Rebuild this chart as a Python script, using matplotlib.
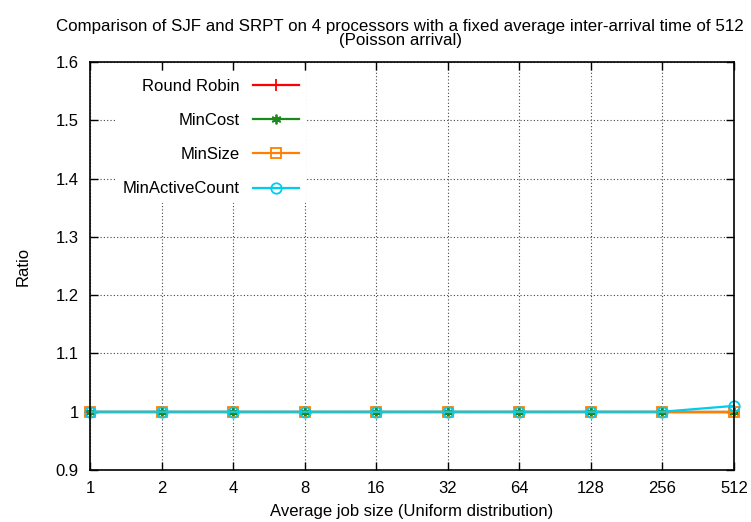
import matplotlib
matplotlib.use("Agg")
import matplotlib.pyplot as plt

plt.rcParams['font.family'] = ['Liberation Sans', 'DejaVu Sans']

job_sizes = ["1", "2", "4", "8", "16", "32", "64", "128", "256", "512"]
round_robin = [1, 1, 1, 1, 1, 1, 1, 1, 1, 1]
min_cost = [1, 1, 1, 1, 1, 1, 1, 1, 1, 1]
min_size = [1, 1, 1, 1, 1, 1, 1, 1, 1, 1]
min_active = [1, 1, 1, 1, 1, 1, 1, 1, 1, 1.01]

fig = plt.figure(figsize=(7.51, 5.22), dpi=100)
ax = fig.add_axes([90/751, 52/522, 644/751, 408/522])
x = list(range(len(job_sizes)))

common = dict(lw=1.6, clip_on=False, zorder=3)
ax.plot(x, round_robin, color='#ff0000', marker='+', markersize=9, mew=1.3, label='Round Robin', **common)
ax.plot(x, min_cost, color='#1a8a1a', marker=(6, 2, 0), markersize=7, mew=1.3, label='MinCost', **common)
ax.plot(x, min_size, color='#ff8000', marker='s', markersize=7, mfc='none', mew=1.3, label='MinSize', **common)
ax.plot(x, min_active, color='#00ccee', marker='o', markersize=7.5, mfc='none', mew=1.3, label='MinActiveCount', **common)

ax.set_xlim(0, 9)
ax.set_ylim(0.9, 1.6)
ax.set_xticks(x)
ax.set_xticklabels(job_sizes)
ax.set_yticks([0.9, 1.0, 1.1, 1.2, 1.3, 1.4, 1.5, 1.6])
ax.set_yticklabels(['0.9', '1', '1.1', '1.2', '1.3', '1.4', '1.5', '1.6'])
ax.tick_params(direction='in', top=True, right=True, length=6, labelsize=12, pad=8, width=1)
ax.grid(True, linestyle=(0, (1, 2)), color='#444444', lw=0.8)
for s in ax.spines.values():
    s.set_linewidth(1.2)
    s.set_zorder(4)

ax.set_xlabel('Average job size (Uniform distribution)', fontsize=12, labelpad=6)
ax.set_ylabel('Ratio', fontsize=12, labelpad=18)
fig.text(400/751, 1 - 33.5/522,
         'Comparison of SJF and SRPT on 4 processors with a fixed average inter-arrival time of 512\n(Poisson arrival)',
         fontsize=12.2, ha='center', va='center', linespacing=0.95)

leg = ax.legend(loc='upper left', bbox_to_anchor=(0.041, 0.975), markerfirst=False, frameon=True, fancybox=False,
                edgecolor='white', facecolor='white', framealpha=1, fontsize=12,
                handlelength=2.8, handletextpad=0.75, labelspacing=1.15, borderaxespad=0.0)
leg.get_frame().set_linewidth(0)
leg.set_zorder(5)

fig.savefig('out.png', dpi=100)
